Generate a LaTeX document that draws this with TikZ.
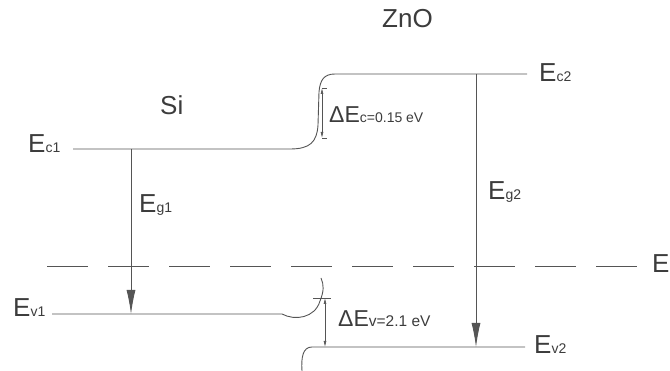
\documentclass[tikz,border=0pt]{standalone}
\usepackage{fontspec}
\setmainfont{Liberation Sans}
\usetikzlibrary{arrows.meta}
\definecolor{ln}{HTML}{555555}
\definecolor{tx}{HTML}{3C3C3C}
\newcommand{\bigE}[2]{{\fontsize{26}{26}\selectfont #1}{\fontsize{14}{14}\selectfont #2}}
\newcommand{\midE}[3]{{\fontsize{23}{23}\selectfont #1}{\fontsize{#3}{#3}\selectfont #2}}
\tikzset{
  band/.style={draw=ln, line width=0.9pt},
  gaparrow/.style={draw=ln, line width=0.9pt, -{Latex[length=24pt,width=9pt]}},
  offarrow/.style={draw=ln, line width=0.7pt, {Latex[length=6pt,width=3pt]}-{Latex[length=6pt,width=3pt]}},
  lbl/.style={anchor=base west, inner sep=0pt, text=tx},
  fermi/.style={draw=ln, line width=0.9pt, dash pattern=on 41pt off 20pt}
}
\begin{document}
\begin{tikzpicture}[x=1pt,y=-1pt]
\useasboundingbox (0,0) rectangle (670,371);
% labels
\node[lbl] (zno) at (382,28) {\fontsize{26}{26}\selectfont ZnO};
\node[lbl] (si) at (160,115) {\fontsize{26}{26}\selectfont Si};
\node[lbl] (ec1) at (28,153) {\bigE{E}{c1}};
\node[lbl] (ev1) at (13,317) {\bigE{E}{v1}};
\node[lbl] (ec2) at (539,82) {\bigE{E}{c2}};
\node[lbl] (ev2) at (534,354) {\bigE{E}{v2}};
\node[lbl] (eg1) at (139,213) {\bigE{E}{g1}};
\node[lbl] (eg2) at (488,200) {\bigE{E}{g2}};
\node[lbl] (ef) at (652,273) {\fontsize{26}{26}\selectfont E};
\node[lbl] (dec) at (329,123) {\midE{ΔE}{c=0.15 eV}{14}};
\node[lbl] (dev) at (338,327) {\midE{ΔE}{v=2.1 eV}{15.5}};
% coordinates
\coordinate (c1s) at (73,149);
\coordinate (c1e) at (290,149);
\coordinate (c2s) at (335,74);
\coordinate (c2e) at (527,74);
\coordinate (v1s) at (52,314);
\coordinate (v1e) at (282,314);
\coordinate (v2s) at (312,347);
\coordinate (v2e) at (525,347);
\coordinate (g1t) at (131,149);
\coordinate (g1b) at (131,314);
\coordinate (g2t) at (476,74);
\coordinate (g2b) at (476,347);
\coordinate (fs) at (47,266);
\coordinate (fe) at (640,266);
\coordinate (dct) at (322,88);
\coordinate (dcb) at (322,138);
\coordinate (dvt) at (325,298);
\coordinate (dvb) at (325,347);
% Fermi level
\draw[fermi] (fs) -- (fe);
% conduction band
\draw[band] (c1s) -- (c1e) .. controls (310,149) and (317,142) .. (318,125)
  -- (319,92) .. controls (320,80) and (324,74) .. (c2s) -- (c2e);
% valence band
\draw[band] (v1s) -- (v1e) .. controls (295,321) and (315,318) .. (320,301)
  .. controls (324,291) and (324,285) .. (321,278);
\draw[band] (v2e) -- (v2s) .. controls (303,347) and (301,357) .. (302,371);
% gaps
\draw[gaparrow] (g1t) -- (g1b);
\draw[gaparrow] (g2t) -- (g2b);
% offsets
\draw[offarrow] (dct) -- (dcb);
\draw[draw=ln, line width=0.6pt] (dct) -- ++(5,0);
\draw[draw=ln, line width=0.6pt] (dcb) -- ++(5,0);
\draw[offarrow] (dvt) -- (dvb);
\draw[draw=ln, line width=0.6pt] (313,298) -- (331,298);
\end{tikzpicture}
\end{document}
